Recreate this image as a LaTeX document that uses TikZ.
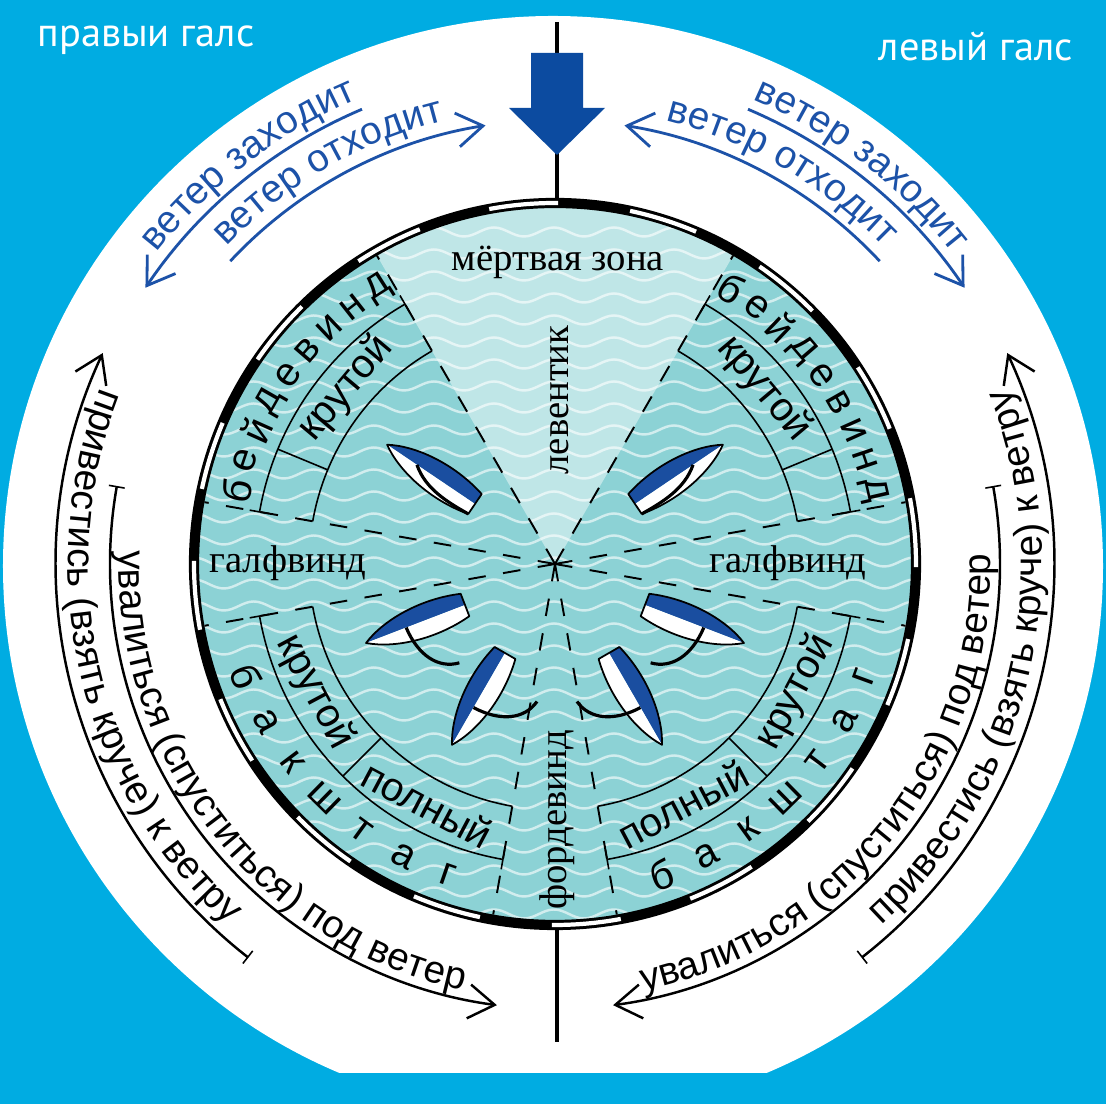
\documentclass[tikz,border=0pt]{standalone}
\usepackage{fontspec}
\setmainfont{Liberation Sans}
\newfontfamily\serifrm{Liberation Serif}
\newfontfamily\galsfont{PT Sans}
\usetikzlibrary{
	arrows.meta, decorations.text, decorations.pathmorphing
}
\definecolor{bgblue}    {RGB}{0,  172, 226}
\definecolor{seateal}   {RGB}{140, 210, 213}
\definecolor{boatblue}  {RGB}{26,  78,  160}
\definecolor{windblue}  {RGB}{28,  82,  168}
\definecolor{arrowblue} {RGB}{12,  75,  160}

\newcommand{\arcfont}{\fontsize{11}{13}\selectfont}

\tikzset{
	hull/.pic={
		\fill[boatblue] (0,0) -- (0,-12) .. controls (40,-22) and (82,-15) .. (106,0) -- cycle;
		\fill[white] (0,0) -- (0,12) .. controls (40,22) and (82,15) .. (106,0) -- cycle;
		\draw[line width=0.5pt, line join=round] (0,-12) .. controls (40,-22) and (82,-15) .. (106,0)
			.. controls (82,15) and (40,22) .. (0,12) -- cycle;
	},
	closeboat/.pic={
		\pic[transform shape]{hull};
		\draw[line width=0.9pt] (70,0) .. controls (50,15) and (25,14) .. (0,12);
	},
	runboat/.pic={
		\pic[transform shape]{hull};
		\draw[line width=0.9pt] (63,0) .. controls (62,30) and (48,50) .. (26,52);
	}
}

\begin{document}
\begin{tikzpicture}[x=0.01cm, y=0.01cm,
		sector/.style={line width=0.55pt, dash pattern=on 5pt off 5pt},
		bar/.style={line width=0.45pt},
		windarrow/.style={windblue, line width=0.8pt, -{Straight Barb[length=2.6mm, width=3.4mm]}},
		turnarrow/.style={line width=0.7pt, -{Straight Barb[length=2.6mm, width=3.4mm]}},
		serifname/.style={font=\serifrm\fontsize{11}{13}\selectfont, inner sep=1pt},
		bandname/.style={font=\fontsize{11.5}{13}\selectfont, inner sep=0pt},
		spaced/.style={font=\fontsize{11.5}{14}\selectfont, inner sep=0pt},
		galsname/.style={font=\galsfont\fontsize{11.5}{14}\selectfont, text=white},
		bendtext/.style={decorate, decoration={text along path, text align=center, text={#1}}},
		bluebend/.style={bendtext={#1}, decoration={text color=windblue}}
	]
	\useasboundingbox (-555,-540) rectangle (551,564);
	\fill[bgblue] (-555,-540) rectangle (551,564);
	\fill[white] (-2,-2) circle[radius=550];
	\fill[bgblue] (-555,-540) rectangle (551,-509);

	% sea with waves and the no-go sector
	\begin{scope}
		\clip (0,0) circle[radius=357];
		\fill[seateal] (-360,-360) rectangle (360,360);
		\foreach \y in {-350,-328,...,350}
			\draw[white, opacity=0.6, line width=0.7pt, decorate,
				decoration={snake, segment length=6mm, amplitude=0.45mm}] (-380,\y) -- (380,\y);
		\fill[white, opacity=0.45] (0,0) -- (60:360) arc[start angle=60, end angle=120, radius=360] -- cycle;
	\end{scope}

	% rim
	\draw[line width=2.9pt] (0,0) circle[radius=361];
	\foreach \k in {0,...,15}
		\draw[white, line width=1.2pt] ({22.5*\k-0.5}:361) arc[start angle={22.5*\k-0.5}, end angle={22.5*\k+10.5}, radius=361];

	\draw[line width=0.9pt] (2,542) -- (2,366);
	\draw[line width=0.9pt] (2,-366) -- (2,-478);
	\fill[arrowblue] (-24,511) -- (28,511) -- (28,456) -- (50,456) -- (2,409) -- (-46,456) -- (-24,456) -- cycle;

	\foreach \a in {10,60,120,170,190,260,280,350}
		\draw[sector] (0,0) -- (\a:356);

	\foreach \s/\e/\m in {120/170/157.5, 10/60/22.5, 190/260/225, 280/350/315} {
		\draw[bar] (\s:300) arc[start angle=\s, end angle=\e, radius=300];
		\draw[bar] (\s:246) arc[start angle=\s, end angle=\e, radius=246];
		\draw[bar] (\m:246) -- (\m:300);
		\draw[bar] (\s:290) -- (\s:310);
		\draw[bar] (\e:290) -- (\e:310);
	}

	\foreach \ch [count=\i] in {б,е,й,д,е,в,и,н,д} {
		\pgfmathsetmacro\ang{167-5.55*(\i-1)}
		\node[spaced, rotate=\ang-90] (bwl\i) at (\ang:327) {\ch};
		\pgfmathsetmacro\ang{57.4-5.55*(\i-1)}
		\node[spaced, rotate=\ang-90] (bwr\i) at (\ang:327) {\ch};
	}
	\foreach \ch [count=\i] in {б,а,к,ш,т,а,г} {
		\pgfmathsetmacro\ang{200+8.5*(\i-1)}
		\node[spaced, rotate=\ang+90] (bsl\i) at (\ang:329) {\ch};
		\pgfmathsetmacro\ang{289+8.5*(\i-1)}
		\node[spaced, rotate=\ang+90] (bsr\i) at (\ang:329) {\ch};
	}

	\node[bandname, rotate=50] (steeptl) at (140:273) {крутой};
	\node[bandname, rotate=-50] (steeptr) at (40:273) {крутой};
	\node[bandname, rotate=-62] (steepbl) at (208:272) {крутой};
	\node[bandname, rotate=-28] (fullbl) at (242:272) {полный};
	\node[bandname, rotate=28] (fullbr) at (298:272) {полный};
	\node[bandname, rotate=62] (steepbr) at (332:272) {крутой};

	\pic[transform shape, rotate=146] at (-80,60) {closeboat};
	\pic[transform shape, rotate=34, yscale=-1] at (80,60) {closeboat};
	\pic[transform shape, rotate=201] at (-90,-41) {runboat};
	\pic[transform shape, rotate=-21, yscale=-1] at (90,-41) {runboat};
	\pic[transform shape, rotate=240] at (-50,-89) {runboat};
	\pic[transform shape, rotate=-60, yscale=-1] at (54,-89) {runboat};

	\node[serifname] (deadzone) at (3,302) {мёртвая зона};
	\node[serifname, rotate=90] (leventik) at (5,164) {левентик};
	\node[serifname, rotate=90] (fordewind) at (2,-256) {фордевинд};
	\node[serifname] (halfl) at (-267,1) {галфвинд};
	\node[serifname] (halfr) at (233,1) {галфвинд};

	% wind shift arrows
	\draw[windarrow] (113:494) arc[start angle=113, end angle=146, radius=494];
	\draw[windarrow] (137:444) arc[start angle=137, end angle=99, radius=444];
	\draw[windarrow] (67:494) arc[start angle=67, end angle=34, radius=494];
	\draw[windarrow] (43:444) arc[start angle=43, end angle=81, radius=444];
	\path[bluebend={|\arcfont|ветер заходит}] (160:505) arc[start angle=160, end angle=95, radius=505];
	\path[bluebend={|\arcfont|ветер отходит}] (150:457) arc[start angle=150, end angle=90, radius=457];
	\path[bluebend={|\arcfont|ветер заходит}] (85:505) arc[start angle=85, end angle=20, radius=505];
	\path[bluebend={|\arcfont|ветер отходит}] (90:457) arc[start angle=90, end angle=30, radius=457];

	% steering arrows
	\draw[turnarrow] (232:499) arc[start angle=232, end angle=155, radius=499];
	\draw[bar] (232:491) -- (232:507);
	\draw[turnarrow] (170:445) arc[start angle=170, end angle=262.5, radius=445];
	\draw[bar] (170:437) -- (170:453);
	\draw[turnarrow] (10:445) arc[start angle=10, end angle=-82.5, radius=445];
	\draw[bar] (10:437) -- (10:453);
	\draw[turnarrow] (-52:499) arc[start angle=-52, end angle=25, radius=499];
	\draw[bar] (-52:491) -- (-52:507);
	\path[bendtext={|\arcfont|привестись (взять круче) к ветру}] (143.3:487) arc[start angle=143.3, end angle=243.3, radius=487];
	\path[bendtext={|\arcfont|увалиться (спуститься) под ветер}] (168:436) arc[start angle=168, end angle=268, radius=436];
	\path[bendtext={|\arcfont|увалиться (спуститься) под ветер}] (-88.5:436) arc[start angle=-88.5, end angle=11.5, radius=436];
	\path[bendtext={|\arcfont|привестись (взять круче) к ветру}] (-63.3:487) arc[start angle=-63.3, end angle=36.7, radius=487];

	\node[galsname] (starboard) at (-409,524) {правыи галс};
	\node[galsname] (port) at (421,517) {левый галс};
\end{tikzpicture}
\end{document}
